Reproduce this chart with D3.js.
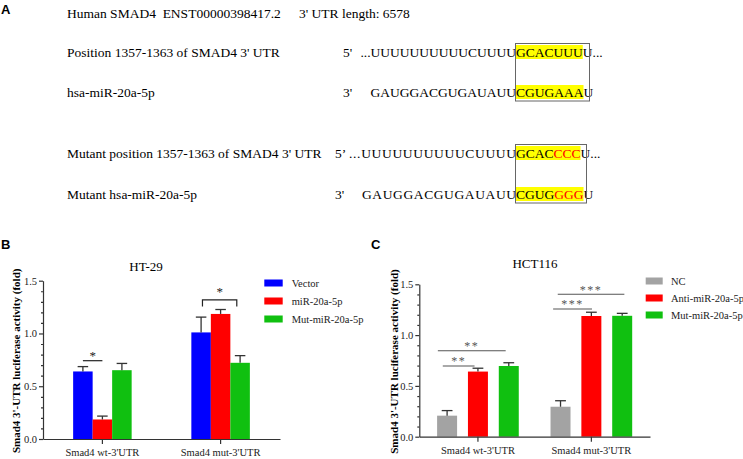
<!DOCTYPE html>
<html><head><meta charset="utf-8">
<script src="https://cdn.jsdelivr.net/npm/d3@7"></script>
<style>body{margin:0;background:#fff}svg{display:block}text{white-space:pre}</style>
</head><body><svg id="c" width="743" height="459"></svg>
<script>
// ---------- Panel A text content ----------
const headerLeft = "Human SMAD4  ENST00000398417.2";
const headerRight = "3' UTR length: 6578";
const rowLabels = ["Position 1357-1363 of SMAD4 3' UTR", "hsa-miR-20a-5p",
                   "Mutant position 1357-1363 of SMAD4 3' UTR", "Mutant hsa-miR-20a-5p"];
const rowPrimes = ["5'", "3'", "5\u2019", "3'"];
const rowPrefixes = ["...UUUUUUUUUUCUUUU", "GAUGGACGUGAUAUU", "...UUUUUUUUUUCUUUU", "GAUGGACGUGAUAUU"];
const rowSeeds = [[["GCACUUU", 0]], [["CGUGAAA", 0]], [["GCAC", 0], ["CCC", 1]], [["CGUG", 0], ["GGG", 1]]];
const rowSuffixes = ["U...", "U", "U...", "U"];

// ---------- Panels B / C data ----------
const groups = ["Smad4 wt-3'UTR", "Smad4 mut-3'UTR"];
const yTicks = [0, 0.5, 1.0, 1.5];

const htSeries = ["Vector", "miR-20a-5p", "Mut-miR-20a-5p"];
const htVector = [0.64, 1.01];
const htVectorErr = [0.046, 0.145];
const htMiR = [0.185, 1.185];
const htMiRErr = [0.032, 0.042];
const htMut = [0.652, 0.722];
const htMutErr = [0.064, 0.068];
// significance marks: group index, from/to (bar index), level (fold), label, bracket
const htSigGroup = [0, 1];
const htSigFrom = [0, 0.07];
const htSigTo = [1, 1.83];
const htSigLevel = [0.742, 1.318];
const htSigLabel = ["*", "*"];
const htSigBracket = [false, true];

const hctSeries = ["NC", "Anti-miR-20a-5p", "Mut-miR-20a-5p"];
const hctNC = [0.207, 0.295];
const hctNCErr = [0.05, 0.059];
const hctAnti = [0.641, 1.188];
const hctAntiErr = [0.033, 0.037];
const hctMut = [0.696, 1.19];
const hctMutErr = [0.032, 0.024];
const hctSigGroup = [0, 0, 1, 1];
const hctSigFrom = [-0.14, -0.3, -0.24, -0.09];
const hctSigTo = [0.89, 1.9, 1.02, 2.07];
const hctSigLevel = [0.696, 0.846, 1.257, 1.402];
const hctSigLabel = ["**", "**", "***", "***"];
const hctSigBracket = [false, false, false, false];

// ---------- drawing ----------
const svg = d3.select("#c");
const SERIF = "'Liberation Serif','Times New Roman',serif";
const SANS = "'Liberation Sans',Arial,sans-serif";

// Panel A
svg.append("text").attr("x", 1).attr("y", 14).attr("font-family", SANS)
  .attr("font-weight", "bold").attr("font-size", 13).text("A");
const fsA = 13.5;
svg.append("text").attr("x", 67).attr("y", 18).attr("font-family", SERIF)
  .attr("font-size", fsA).text(headerLeft);
svg.append("text").attr("x", 299).attr("y", 18).attr("font-family", SERIF)
  .attr("font-size", fsA).text(headerRight);

const seedX = 516;
const rowBase = [57, 97, 158, 199];
const primeX = [343, 343, 335, 335];
const prefixStart = [null, null, 349, 362];
const seedColors = ["#000", "#ff0000"];
const seedWidths = [];
rowLabels.forEach((lab, i) => {
  const yb = rowBase[i];
  svg.append("text").attr("x", 67).attr("y", yb).attr("font-family", SERIF)
    .attr("font-size", fsA).text(lab);
  svg.append("text").attr("x", primeX[i]).attr("y", yb).attr("font-family", SERIF)
    .attr("font-size", fsA).text(rowPrimes[i]);
  const pre = svg.append("text").attr("y", yb).attr("font-family", SERIF)
    .attr("font-size", fsA).text(rowPrefixes[i]);
  if (prefixStart[i] !== null) {
    pre.attr("x", prefixStart[i]).attr("textLength", seedX - prefixStart[i]).attr("lengthAdjust", "spacing");
  } else {
    pre.attr("x", seedX).attr("text-anchor", "end");
  }
  const hl = svg.append("rect").attr("x", seedX).attr("y", yb - 12).attr("height", 14).attr("fill", "#ffff00");
  const seed = svg.append("text").attr("x", seedX).attr("y", yb).attr("font-family", SERIF).attr("font-size", fsA);
  rowSeeds[i].forEach(([s, c]) => seed.append("tspan").attr("fill", seedColors[c]).text(s));
  const w = seed.node().getComputedTextLength();
  seedWidths.push(w);
  hl.attr("width", w);
  svg.append("text").attr("x", seedX + w).attr("y", yb).attr("font-family", SERIF)
    .attr("font-size", fsA).text(rowSuffixes[i]);
});
[[0, 1, 74], [2, 3, 71]].forEach(([a, b, bw]) => {
  svg.append("rect").attr("x", seedX - 0.5).attr("y", rowBase[a] - 13.5)
    .attr("width", bw).attr("height", rowBase[b] + 4 - (rowBase[a] - 13.5))
    .attr("fill", "none").attr("stroke", "#666").attr("stroke-width", 1);
});

function barPanel(cfg) {
  const g = svg.append("g");
  g.append("text").attr("x", cfg.letterX).attr("y", 249).attr("font-family", SANS)
    .attr("font-weight", "bold").attr("font-size", 13).text(cfg.letter);
  const y = d3.scaleLinear().domain([0, 1.5]).range([cfg.yb, cfg.yt]);
  const x0 = d3.scaleBand().domain(groups).range([cfg.xl, cfg.xr])
    .paddingInner(cfg.pi).paddingOuter(cfg.po);
  const x1 = d3.scaleBand().domain(cfg.series).range([0, x0.bandwidth()])
    .paddingInner(cfg.gap).paddingOuter(0);
  const bw = x1.bandwidth();
  // bars
  cfg.series.forEach((s, si) => {
    const vals = cfg.means[si];
    g.selectAll(null).data(groups).enter().append("rect")
      .attr("x", d => x0(d) + x1(s)).attr("y", (d, gi) => y(vals[gi]))
      .attr("width", bw).attr("height", (d, gi) => y(0) - y(vals[gi]))
      .attr("fill", cfg.colors[si]);
  });
  // error bars
  cfg.series.forEach((s, si) => {
    const vals = cfg.means[si], errs = cfg.errs[si];
    groups.forEach((gname, gi) => {
      const cx = x0(gname) + x1(s) + bw / 2;
      g.append("line").attr("x1", cx).attr("x2", cx).attr("y1", y(vals[gi]))
        .attr("y2", y(vals[gi] + errs[gi])).attr("stroke", "#333").attr("stroke-width", 1.3);
      g.append("line").attr("x1", cx - bw * 0.27).attr("x2", cx + bw * 0.27)
        .attr("y1", y(vals[gi] + errs[gi])).attr("y2", y(vals[gi] + errs[gi]))
        .attr("stroke", "#333").attr("stroke-width", 1.3);
    });
  });
  // axes
  const yAxis = g.append("g").attr("transform", `translate(${cfg.xl},0)`)
    .call(d3.axisLeft(y).tickValues(yTicks).tickFormat(d3.format(".1f")).tickSize(4).tickSizeOuter(0).tickPadding(2));
  const minor = d3.range(1, 15).map(v => v / 10).filter(v => Math.abs(v * 2 - Math.round(v * 2)) > 1e-6);
  const yMinor = g.append("g").attr("transform", `translate(${cfg.xl},0)`)
    .call(d3.axisLeft(y).tickValues(minor).tickFormat("").tickSize(2).tickSizeOuter(0));
  yMinor.select(".domain").remove();
  const xAxis = g.append("g").attr("transform", `translate(0,${cfg.yb})`)
    .call(d3.axisBottom(x0).tickSize(5).tickSizeOuter(0).tickPadding(5));
  [yAxis, yMinor, xAxis].forEach(a => {
    a.selectAll("path,line").attr("stroke", "#333").attr("stroke-width", 1.2);
    a.selectAll("text").attr("font-family", SERIF).attr("font-size", 10.5).attr("fill", "#222");
  });
  // y label
  g.append("text").attr("transform", `translate(${cfg.ylabX},${(cfg.yb + cfg.yt) / 2 + 1}) rotate(-90)`)
    .attr("text-anchor", "middle").attr("font-family", SERIF).attr("font-weight", "bold")
    .attr("font-size", 11).text("Smad4 3'-UTR luciferase activity (fold)");
  // title
  g.append("text").attr("x", cfg.titleX).attr("y", cfg.titleY).attr("text-anchor", "middle")
    .attr("font-family", SERIF).attr("font-size", 13).text(cfg.title);
  // significance
  const bc = (gi, idx) => x0(groups[gi]) + x1.step() * idx + bw / 2;
  cfg.sigLabel.forEach((lab, k) => {
    const xa = bc(cfg.sigGroup[k], cfg.sigFrom[k]), xb = bc(cfg.sigGroup[k], cfg.sigTo[k]);
    const ly = y(cfg.sigLevel[k]);
    const path = cfg.sigBracket[k]
      ? `M${xa},${ly + 6.5}V${ly}H${xb}V${ly + 6.5}`
      : `M${xa},${ly}H${xb}`;
    g.append("path").attr("d", path).attr("fill", "none").attr("stroke", cfg.sigColor).attr("stroke-width", 1.2);
    g.append("text").attr("x", (xa + xb) / 2).attr("y", ly + cfg.starDy[k]).attr("text-anchor", "middle")
      .attr("font-family", SERIF).attr("font-size", cfg.starSize).attr("letter-spacing", cfg.starSpacing)
      .attr("fill", cfg.sigColor).text(lab);
  });
  // legend
  cfg.series.forEach((s, si) => {
    const cy = cfg.legY + si * cfg.legStep;
    g.append("rect").attr("x", cfg.legX).attr("y", cy - 3.5).attr("width", cfg.legW).attr("height", 7)
      .attr("fill", cfg.colors[si]);
    g.append("text").attr("x", cfg.legTextX).attr("y", cy + 3.8).attr("font-family", SERIF)
      .attr("font-size", 10.5).attr("fill", "#222").text(s);
  });
}

barPanel({
  letter: "B", letterX: 1, xl: 43, xr: 280, yb: 439, yt: 280.7, pi: 0.505, po: 0.255, gap: 0,
  series: htSeries, means: [htVector, htMiR, htMut], errs: [htVectorErr, htMiRErr, htMutErr],
  colors: ["#0000ff", "#ff0000", "#10c010"],
  ylabX: 19.5, title: "HT-29", titleX: 146, titleY: 271,
  sigGroup: htSigGroup, sigFrom: htSigFrom, sigTo: htSigTo, sigLevel: htSigLevel,
  sigLabel: htSigLabel, sigBracket: htSigBracket, sigColor: "#222", starSize: 13, starSpacing: 0,
  starDy: [-0.5, -4],
  legX: 264.3, legW: 18.4, legY: 283, legStep: 18, legTextX: 291.7
});
barPanel({
  letter: "C", letterX: 371, xl: 419.3, xr: 650, yb: 436.7, yt: 284.3, pi: 0.28, po: 0.157, gap: 0.352,
  series: hctSeries, means: [hctNC, hctAnti, hctMut], errs: [hctNCErr, hctAntiErr, hctMutErr],
  colors: ["#a3a3a3", "#ff0000", "#10c010"],
  ylabX: 397.5, title: "HCT116", titleX: 535, titleY: 268,
  sigGroup: hctSigGroup, sigFrom: hctSigFrom, sigTo: hctSigTo, sigLevel: hctSigLevel,
  sigLabel: hctSigLabel, sigBracket: hctSigBracket, sigColor: "#555", starSize: 12, starSpacing: 1.5,
  starDy: [-0.5, -0.5, -0.5, -0.5],
  legX: 645.7, legW: 17, legY: 281, legStep: 17, legTextX: 671
});
</script></body></html>
